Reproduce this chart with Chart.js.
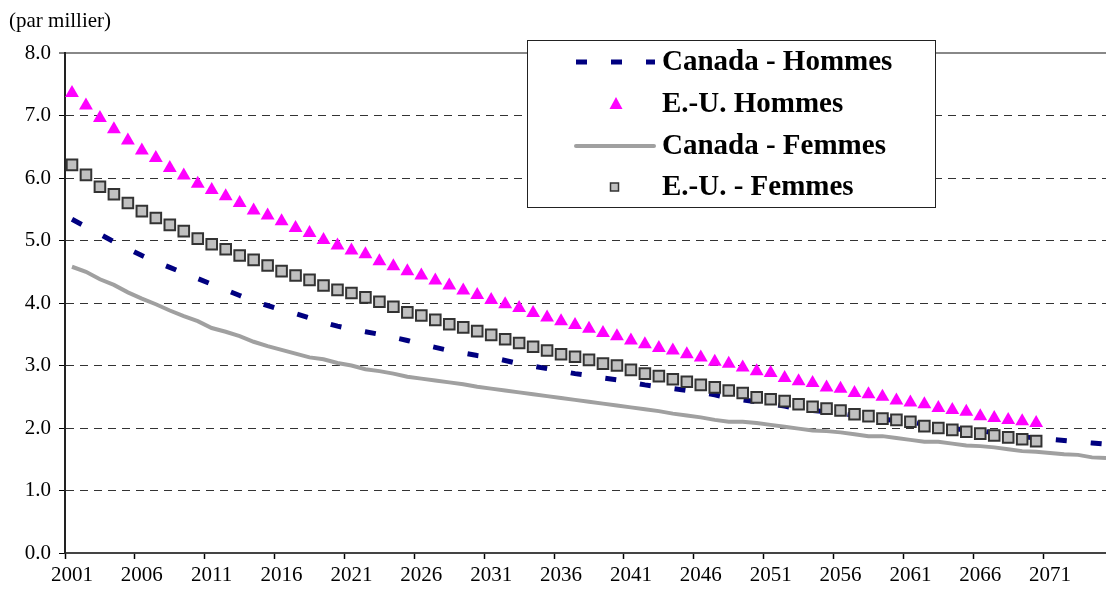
<!DOCTYPE html>
<html lang="fr">
<head>
    <meta charset="UTF-8">
    <title>Taux de mortalité - Canada et E.-U.</title>
    <script src="https://cdn.jsdelivr.net/npm/chart.js@4.4.1/dist/chart.umd.min.js"></script>
    <style>
        html, body { margin: 0; padding: 0; background: #fff; overflow: hidden; }
        /* the source plot runs a few pixels past the right edge of the picture */
        #wrap { width: 1106px; height: 593px; position: relative; overflow: hidden; }
    </style>
</head>
<body>
    <div id="wrap"><canvas id="chart" width="1113" height="593"></canvas></div>

    <script>
        const years = [
            2001, 2002, 2003, 2004, 2005, 2006, 2007, 2008, 2009, 2010,
            2011, 2012, 2013, 2014, 2015, 2016, 2017, 2018, 2019, 2020,
            2021, 2022, 2023, 2024, 2025, 2026, 2027, 2028, 2029, 2030,
            2031, 2032, 2033, 2034, 2035, 2036, 2037, 2038, 2039, 2040,
            2041, 2042, 2043, 2044, 2045, 2046, 2047, 2048, 2049, 2050,
            2051, 2052, 2053, 2054, 2055, 2056, 2057, 2058, 2059, 2060,
            2061, 2062, 2063, 2064, 2065, 2066, 2067, 2068, 2069, 2070,
            2071, 2072, 2073, 2074, 2075
        ];

        const canadaHommes = [
            5.34, 5.22, 5.10, 4.98, 4.87, 4.76, 4.66, 4.57, 4.48, 4.39,
            4.30, 4.21, 4.12, 4.03, 3.96, 3.89, 3.83, 3.76, 3.69, 3.63,
            3.58, 3.54, 3.50, 3.45, 3.40, 3.34, 3.29, 3.24, 3.20, 3.16,
            3.13, 3.08, 3.03, 2.99, 2.95, 2.91, 2.87, 2.84, 2.80, 2.77,
            2.73, 2.69, 2.66, 2.63, 2.60, 2.57, 2.53, 2.48, 2.45, 2.42,
            2.39, 2.35, 2.31, 2.28, 2.26, 2.24, 2.20, 2.17, 2.14, 2.12,
            2.10, 2.06, 2.02, 1.99, 1.97, 1.96, 1.92, 1.89, 1.86, 1.84,
            1.82, 1.80, 1.78, 1.76, 1.74
        ];

        const euHommes = [
            7.36, 7.16, 6.96, 6.78, 6.60, 6.44, 6.32, 6.16, 6.04, 5.91,
            5.81, 5.71, 5.60, 5.48, 5.40, 5.31, 5.20, 5.12, 5.01, 4.92,
            4.84, 4.78, 4.67, 4.59, 4.51, 4.44, 4.36, 4.28, 4.20, 4.13,
            4.05, 3.98, 3.92, 3.84, 3.77, 3.71, 3.65, 3.59, 3.52, 3.47,
            3.40, 3.34, 3.28, 3.24, 3.18, 3.13, 3.06, 3.03, 2.97, 2.91,
            2.88, 2.80, 2.75, 2.72, 2.65, 2.63, 2.56, 2.54, 2.50, 2.44,
            2.41, 2.38, 2.32, 2.29, 2.26, 2.19, 2.16, 2.13, 2.11, 2.08
        ];

        const canadaFemmes = [
            4.58, 4.50, 4.38, 4.29, 4.17, 4.07, 3.98, 3.88, 3.79, 3.71,
            3.60, 3.54, 3.47, 3.38, 3.31, 3.25, 3.19, 3.13, 3.10, 3.04,
            3.00, 2.94, 2.91, 2.87, 2.82, 2.79, 2.76, 2.73, 2.70, 2.66,
            2.63, 2.60, 2.57, 2.54, 2.51, 2.48, 2.45, 2.42, 2.39, 2.36,
            2.33, 2.30, 2.27, 2.23, 2.20, 2.17, 2.13, 2.10, 2.10, 2.08,
            2.05, 2.02, 1.99, 1.96, 1.95, 1.93, 1.90, 1.87, 1.87, 1.84,
            1.81, 1.78, 1.78, 1.75, 1.72, 1.71, 1.69, 1.66, 1.63, 1.62,
            1.60, 1.58, 1.57, 1.53, 1.52
        ];

        const euFemmes = [
            6.21, 6.05, 5.86, 5.74, 5.60, 5.47, 5.36, 5.25, 5.15, 5.03,
            4.94, 4.86, 4.76, 4.69, 4.60, 4.51, 4.44, 4.37, 4.28, 4.21,
            4.16, 4.09, 4.02, 3.94, 3.85, 3.80, 3.73, 3.66, 3.61, 3.55,
            3.49, 3.42, 3.36, 3.30, 3.24, 3.18, 3.14, 3.09, 3.03, 3.00,
            2.93, 2.87, 2.83, 2.78, 2.74, 2.69, 2.65, 2.60, 2.56, 2.49,
            2.46, 2.43, 2.38, 2.34, 2.31, 2.28, 2.22, 2.19, 2.15, 2.13,
            2.10, 2.03, 2.00, 1.97, 1.94, 1.91, 1.88, 1.85, 1.82, 1.79
        ];

        const yTicks = [0, 1, 2, 3, 4, 5, 6, 7, 8];
        const unitLabel = "(par millier)";

        const FONT = "'Liberation Serif', 'Times New Roman', serif";
        const NAVY = "#000080";
        const MAGENTA = "#FF00FF";
        const GREY_LINE = "#A0A0A0";

        // legend box + unit label drawn on top of the plot
        const overlay = {
            id: "overlay",
            afterDraw(chart) {
                const ctx = chart.ctx;
                ctx.save();
                ctx.fillStyle = "#000";
                ctx.font = "21px " + FONT;
                ctx.textBaseline = "middle";
                ctx.fillText(unitLabel, 9, 21);

                // legend
                const bx = 527.5, by = 40.5, bw = 408, bh = 167;
                ctx.fillStyle = "#fff";
                ctx.fillRect(bx, by, bw, bh);
                ctx.strokeStyle = "#222";
                ctx.lineWidth = 1;
                ctx.strokeRect(bx, by, bw, bh);

                const ds = chart.data.datasets;
                const rows = [62, 104, 146, 187];
                ctx.font = "bold 29px " + FONT;
                ds.forEach((d, i) => {
                    const y = rows[i];
                    ctx.fillStyle = "#000";
                    ctx.textBaseline = "middle";
                    ctx.fillText(d.label, 662, y + 1);
                    if (i === 0) {
                        ctx.strokeStyle = NAVY;
                        ctx.lineWidth = 5;
                        ctx.setLineDash([11, 24]);
                        ctx.beginPath();
                        ctx.moveTo(576, y);
                        ctx.lineTo(655, y);
                        ctx.stroke();
                        ctx.setLineDash([]);
                    } else if (i === 1) {
                        ctx.fillStyle = MAGENTA;
                        ctx.beginPath();
                        ctx.moveTo(616, y - 7);
                        ctx.lineTo(622.5, y + 5);
                        ctx.lineTo(609.5, y + 5);
                        ctx.closePath();
                        ctx.fill();
                    } else if (i === 2) {
                        ctx.strokeStyle = GREY_LINE;
                        ctx.lineWidth = 4;
                        ctx.lineCap = "round";
                        ctx.beginPath();
                        ctx.moveTo(576, y);
                        ctx.lineTo(654, y);
                        ctx.stroke();
                    } else {
                        ctx.fillStyle = "#C0C0C0";
                        ctx.strokeStyle = "#333";
                        ctx.lineWidth = 1.5;
                        ctx.fillRect(610.5, y - 4, 8, 8);
                        ctx.strokeRect(610.5, y - 4, 8, 8);
                    }
                });
                ctx.restore();
            }
        };

        const ctx = document.getElementById("chart").getContext("2d");
        const chart = new Chart(ctx, {
            type: "line",
            data: {
                labels: years,
                datasets: [
                    {
                        label: "Canada - Hommes",
                        data: canadaHommes,
                        borderColor: NAVY,
                        borderWidth: 5,
                        borderDash: [11, 24],
                        pointRadius: 0,
                        tension: 0,
                        order: 3
                    },
                    {
                        label: "E.-U. Hommes",
                        data: euHommes,
                        showLine: false,
                        pointStyle: "triangle",
                        pointRadius: 8,
                        pointBackgroundColor: MAGENTA,
                        pointBorderColor: MAGENTA,
                        pointBorderWidth: 0,
                        order: 2
                    },
                    {
                        label: "Canada - Femmes",
                        data: canadaFemmes,
                        borderColor: GREY_LINE,
                        borderWidth: 4,
                        pointRadius: 0,
                        tension: 0,
                        order: 1
                    },
                    {
                        label: "E.-U. - Femmes",
                        data: euFemmes,
                        showLine: false,
                        pointStyle: "rect",
                        pointRadius: 7.5,
                        pointBackgroundColor: "#C0C0C0",
                        pointBorderColor: "#333",
                        pointBorderWidth: 2,
                        order: 0
                    }
                ]
            },
            options: {
                responsive: false,
                animation: false,
                events: [],
                layout: { autoPadding: false, padding: { top: 53, left: 0, right: 0, bottom: 0 } },
                plugins: {
                    legend: { display: false },
                    tooltip: { enabled: false }
                },
                scales: {
                    x: {
                        type: "category",
                        offset: true,
                        grid: {
                            offset: true,
                            drawOnChartArea: false,
                            drawTicks: true,
                            tickLength: 6,
                            tickWidth: 1.5,
                            tickColor: c => (c.index % 5 === 0 ? "#000" : "rgba(0,0,0,0)")
                        },
                        border: { display: true, color: "#444", width: 2 },
                        ticks: {
                            autoSkip: false,
                            maxRotation: 0,
                            minRotation: 0,
                            padding: 4,
                            color: "#000",
                            font: { family: FONT, size: 21 },
                            callback: function (v, i) {
                                return i % 5 === 0 ? String(years[i]) : "";
                            }
                        },
                        afterFit: s => {
                            s.height = 40;
                            s.paddingLeft = 0;
                            s.paddingRight = 0;
                        }
                    },
                    y: {
                        min: 0,
                        max: 8,
                        afterBuildTicks: s => { s.ticks = yTicks.map(v => ({ value: v })); },
                        grid: {
                            color: c => (c.tick && c.tick.value === 8 ? "#888" : (c.tick && c.tick.value === 0 ? "rgba(0,0,0,0)" : "#333")),
                            lineWidth: c => (c.tick && c.tick.value === 8 ? 2 : 1),
                            tickLength: 6,
                            tickColor: "#000",
                            tickWidth: 1
                        },
                        border: {
                            display: true,
                            color: "#222",
                            width: 2,
                            dash: c => (c.tick && c.tick.value === 8 ? [] : [8, 6])
                        },
                        ticks: {
                            padding: 8,
                            color: "#000",
                            font: { family: FONT, size: 21 },
                            callback: v => Number(v).toFixed(1)
                        },
                        afterFit: s => {
                            s.width = 65;
                            s.paddingTop = 0;
                            s.paddingBottom = 0;
                        }
                    }
                }
            },
            plugins: [overlay]
        });
    </script>
</body>
</html>
